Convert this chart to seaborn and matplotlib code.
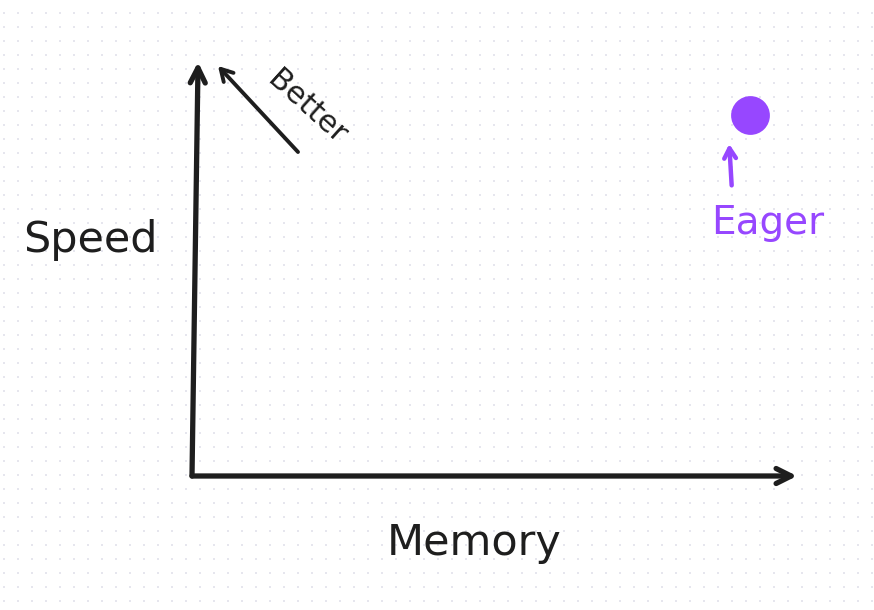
import numpy as np
import pandas as pd
import matplotlib
matplotlib.use("Agg")
import matplotlib.pyplot as plt
import seaborn as sns

# Data
methods = ["Eager"]
memory = [0.922]
speed = [0.872]
x_label = "Memory"
y_label = "Speed"
hint_text = "Better"

INK = "#1e1e1e"
PURPLE = "#9747ff"

sns.set_theme(style="white")
plt.rcParams['font.family'] = ['DejaVu Sans']

W, H = 874, 610
fig = plt.figure(figsize=(W / 100, H / 100), dpi=100)
fig.patch.set_facecolor("white")

# dotted paper background
bg = fig.add_axes([0, 0, 1, 1])
bg.set_xlim(0, W)
bg.set_ylim(H, 0)
bg.axis("off")
gx, gy = np.meshgrid(np.arange(4, W, 14), np.arange(13, H, 14))
bg.scatter(gx.ravel(), gy.ravel(), s=4, marker="s", color="#e6e6ee", linewidths=0)

# main axes: origin at pixel (192, 476)
x0, y0, x1, y1 = 192, 476, 797, 62
ax = fig.add_axes([x0 / W, (H - y0) / H, (x1 - x0) / W, (y0 - y1) / H])
ax.set_xlim(0, 1)
ax.set_ylim(0, 1)
ax.axis("off")
ax.patch.set_alpha(0)

arrow_kw2 = dict(arrowstyle="->,head_length=0.9,head_width=0.45", color=INK, lw=3.8,
                 shrinkA=0, shrinkB=0, capstyle="round", joinstyle="round")
# x axis
ax.annotate("", xy=(1.0, 0.0), xytext=(0.0, 0.0), xycoords="axes fraction",
            arrowprops=arrow_kw2, annotation_clip=False)
# y axis
ax.annotate("", xy=(0.01, 1.0), xytext=(0.0, 0.0), xycoords="axes fraction",
            arrowprops=arrow_kw2, annotation_clip=False)

# "Better" arrow
ax.annotate("", xy=((218 - x0) / (x1 - x0), (y0 - 66) / (y0 - y1)),
            xytext=((298 - x0) / (x1 - x0), (y0 - 152) / (y0 - y1)),
            xycoords="axes fraction",
            arrowprops=dict(arrowstyle="->,head_length=0.7,head_width=0.4",
                            color=INK, lw=2.8, shrinkA=0, shrinkB=0),
            annotation_clip=False)
fig.text(307 / W, 1 - 107 / H, hint_text, rotation=-42, fontsize=22, color=INK,
         ha="center", va="center")

# axis labels
fig.text(90 / W, 1 - 240 / H, y_label, fontsize=31, color=INK, ha="center", va="center")
fig.text(474 / W, 1 - 543 / H, x_label, fontsize=31, color=INK, ha="center", va="center")

# data point
df = pd.DataFrame({"method": methods, "memory": memory, "speed": speed})
sns.scatterplot(data=df, x="memory", y="speed", ax=ax, color=PURPLE, s=780,
                edgecolor=PURPLE, linewidth=0, legend=False, clip_on=False)
for _, r in df.iterrows():
    ax.annotate("", xy=(r.memory - 0.034, r.speed - 0.07),
                xytext=(r.memory - 0.03, r.speed - 0.17),
                arrowprops=dict(arrowstyle="->,head_length=0.6,head_width=0.35",
                                color=PURPLE, lw=3.2, shrinkA=0, shrinkB=0),
                annotation_clip=False)
    ax.annotate(r.method, xy=(r.memory, r.speed), xytext=(r.memory + 0.03, r.speed - 0.26),
                textcoords="data", fontsize=28, color=PURPLE, ha="center", va="center",
                annotation_clip=False)

ax.set_xlabel("")
ax.set_ylabel("")
fig.savefig("out.png", dpi=100, facecolor="white")
